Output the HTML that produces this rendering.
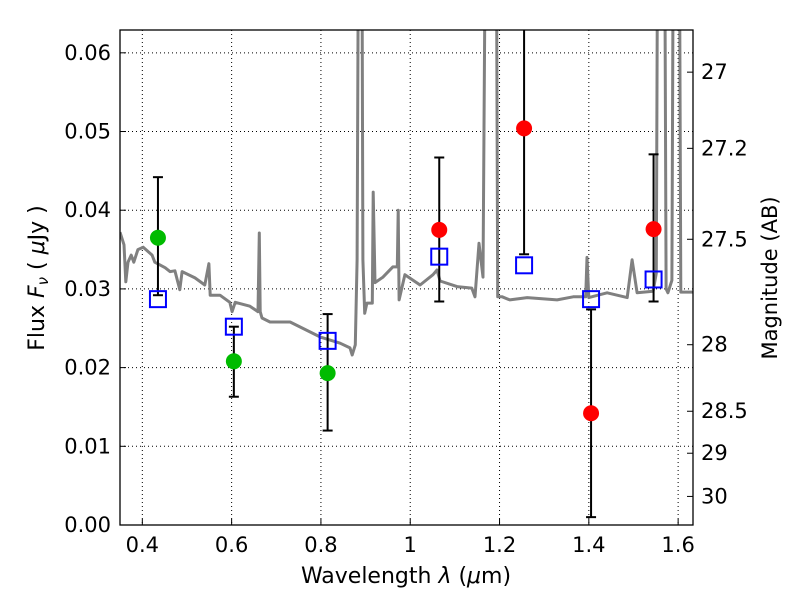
<!DOCTYPE html>
<html><head><meta charset="utf-8"><style>
body{margin:0;background:#fff;}
svg text{font-family:"DejaVu Sans","Liberation Sans",sans-serif;fill:#000;}
</style></head><body>
<svg id="chart" width="800" height="600" xmlns="http://www.w3.org/2000/svg">
<defs><clipPath id="clip"><rect x="120" y="30" width="573" height="495"/></clipPath></defs>
<rect x="0" y="0" width="800" height="600" fill="#fff"/>
<g id="grid"></g>
<g id="spec" clip-path="url(#clip)"></g>
<g id="marks" clip-path="url(#clip)"></g>
<rect x="120" y="30" width="573" height="495" fill="none" stroke="#000" stroke-width="1.3"/>
<g id="axes"></g>
<text x="406" y="583" text-anchor="middle" font-size="22">Wavelength  <tspan font-style="italic">λ</tspan> (<tspan font-style="italic">μ</tspan>m)</text>
<text transform="translate(44,278) rotate(-90)" text-anchor="middle" font-size="22">Flux  <tspan font-style="italic">F</tspan><tspan font-style="italic" font-size="15" dy="4">ν</tspan><tspan dy="-4">  ( </tspan><tspan font-style="italic">μ</tspan>Jy )</text>
<text transform="translate(777,278) rotate(-90)" text-anchor="middle" font-size="21">Magnitude (AB)</text>
</svg>
<script>
const xTicks=[0.4,0.6,0.8,1.0,1.2,1.4,1.6];
const xTickLabels=["0.4","0.6","0.8","1","1.2","1.4","1.6"];
const yTicks=[0,0.01,0.02,0.03,0.04,0.05,0.06];
const yTickLabels=["0.00","0.01","0.02","0.03","0.04","0.05","0.06"];
const magTicks=[27,27.2,27.5,28,28.5,29,30];
const magTickLabels=["27","27.2","27.5","28","28.5","29","30"];
const specLam=[0.350,0.359,0.363,0.368,0.375,0.381,0.390,0.402,0.422,0.428,0.451,0.462,0.473,0.484,0.489,0.518,0.540,0.549,0.552,0.574,0.596,0.601,0.608,0.641,0.659,0.662,0.664,0.668,0.686,0.731,0.798,0.843,0.865,0.870,0.877,0.881,0.885,0.891,0.894,0.898,0.903,0.915,0.917,0.921,0.939,0.961,0.971,0.973,0.975,0.988,1.022,1.051,1.060,1.067,1.105,1.138,1.145,1.154,1.163,1.170,1.174,1.192,1.196,1.206,1.223,1.262,1.329,1.365,1.393,1.396,1.400,1.441,1.486,1.497,1.508,1.544,1.551,1.555,1.569,1.573,1.577,1.586,1.590,1.596,1.602,1.606,1.609,1.633];
const specFlux=[0.0372,0.0356,0.0309,0.0334,0.0343,0.0334,0.0350,0.0353,0.0343,0.0334,0.0327,0.0322,0.0323,0.0299,0.0322,0.0314,0.0305,0.0332,0.0292,0.0292,0.0283,0.0271,0.0283,0.0278,0.0271,0.0371,0.0271,0.0263,0.0258,0.0258,0.0239,0.0231,0.0225,0.0216,0.0229,0.0337,0.09,0.09,0.0337,0.0269,0.0282,0.0282,0.0423,0.0308,0.0315,0.0328,0.0328,0.0400,0.0286,0.0318,0.0305,0.0318,0.0324,0.0310,0.0303,0.0301,0.0290,0.0358,0.0315,0.09,0.09,0.09,0.0290,0.0290,0.0286,0.0289,0.0286,0.0290,0.0290,0.0340,0.0289,0.0295,0.0289,0.0337,0.0295,0.0297,0.0320,0.09,0.09,0.0300,0.0295,0.0311,0.09,0.09,0.09,0.0296,0.0296,0.0296];
const bandLam=[0.435,0.605,0.815,1.065,1.255,1.405,1.545];
const obsFlux=[0.0365,0.0208,0.0193,0.0375,0.0504,0.0142,0.0376];
const obsColor=["#00bb00","#00bb00","#00bb00","#ff0000","#ff0000","#ff0000","#ff0000"];
const errLow=[0.0292,0.0163,0.0120,0.0284,0.0344,0.0010,0.0284];
const errHigh=[0.0442,0.0252,0.0268,0.0467,0.0800,0.0274,0.0471];
const modelFlux=[0.0287,0.0252,0.0234,0.0341,0.0330,0.0287,0.0312];

const X0=120,X1=693,Y0=525,Y1=30,XMIN=0.35,XMAX=1.6333,YMIN=0,YMAX=0.0629;
const sx=v=>X0+(v-XMIN)/(XMAX-XMIN)*(X1-X0);
const sy=v=>Y0-(v-YMIN)/(YMAX-YMIN)*(Y0-Y1);
const magToFlux=m=>Math.pow(10,(23.9-m)/2.5);
const NS="http://www.w3.org/2000/svg";
function mk(tag,attrs,parent,txt){const e=document.createElementNS(NS,tag);for(const k in attrs)e.setAttribute(k,attrs[k]);if(txt!==undefined)e.textContent=txt;parent.appendChild(e);return e;}
const grid=document.getElementById('grid'),axes=document.getElementById('axes'),spec=document.getElementById('spec'),marks=document.getElementById('marks');
xTicks.forEach((t,i)=>{const x=sx(t);
 let g=mk('line',{x1:x,x2:x,y1:Y1,y2:Y0,stroke:'#000','stroke-width':1,'stroke-dasharray':'1,3'},grid);
 
 let tk=mk('line',{x1:x,x2:x,y1:Y0,y2:Y0-6,stroke:'#000'},axes);
 
 let tl=mk('text',{x:x,y:Y0+27,'text-anchor':'middle','font-size':21},axes,xTickLabels[i]);
 });
yTicks.forEach((t,i)=>{const y=sy(t);
 let g=mk('line',{x1:X0,x2:X1,y1:y,y2:y,stroke:'#000','stroke-width':1,'stroke-dasharray':'1,3'},grid);
 
 let tk=mk('line',{x1:X0,x2:X0+6,y1:y,y2:y,stroke:'#000'},axes);
 
 let tl=mk('text',{x:X0-9,y:y+7,'text-anchor':'end','font-size':21},axes,yTickLabels[i]);
 });
magTicks.forEach((m,i)=>{const y=sy(magToFlux(m));
 let tk=mk('line',{x1:X1-6,x2:X1,y1:y,y2:y,stroke:'#000'},axes);
 
 let tl=mk('text',{x:X1+8,y:y+7,'text-anchor':'start','font-size':21},axes,magTickLabels[i]);
 });
const pts=specLam.map((l,i)=>sx(l).toFixed(1)+','+sy(specFlux[i]).toFixed(1)).join(' ');
const pl=mk('polyline',{points:pts,fill:'none',stroke:'#808080','stroke-width':3,'stroke-linejoin':'round'},spec);

bandLam.forEach((l,i)=>{const x=sx(l);
 let e=mk('line',{x1:x,x2:x,y1:sy(errLow[i]),y2:sy(errHigh[i]),stroke:'#000','stroke-width':2},marks);
 
 [errLow[i],errHigh[i]].forEach(v=>{let c=mk('line',{x1:x-5,x2:x+5,y1:sy(v),y2:sy(v),stroke:'#000','stroke-width':2},marks);
  });
 let s=mk('rect',{x:x-8,y:sy(modelFlux[i])-8,width:16,height:16,fill:'none',stroke:'#0000ff','stroke-width':2},marks);
 
 let c=mk('circle',{cx:x,cy:sy(obsFlux[i]),r:8,fill:obsColor[i]},marks);
 });
</script>
</body></html>
